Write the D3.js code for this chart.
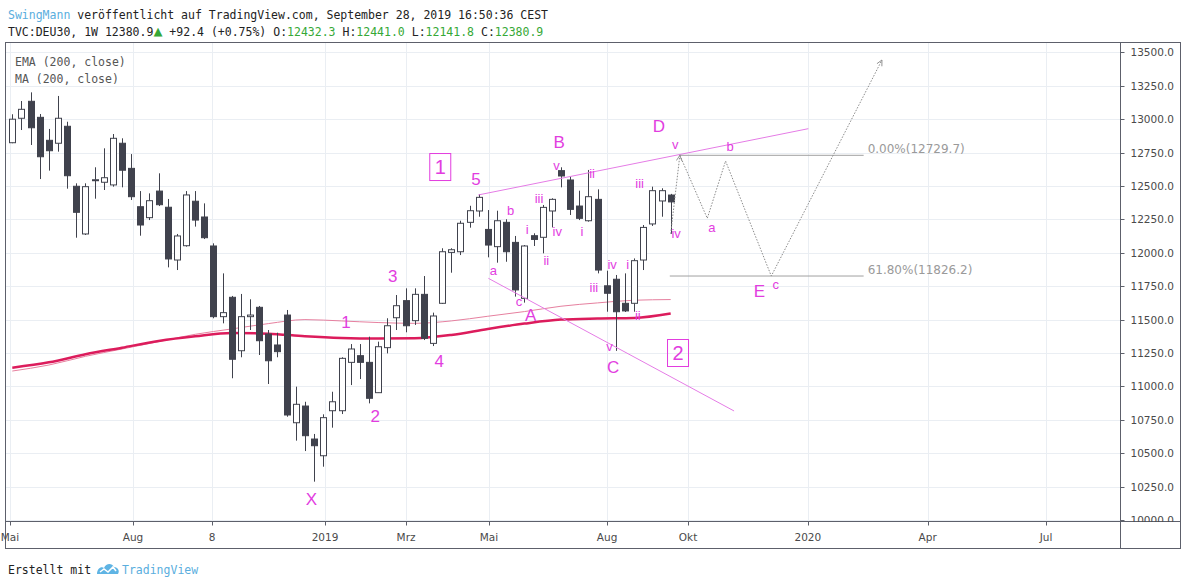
<!DOCTYPE html>
<html>
<head>
<meta charset="utf-8">
<script src="https://cdn.jsdelivr.net/npm/d3@7"></script>
<style>
  body { margin: 0; background: #fff; }
  svg { display: block; }
</style>
</head>
<body>
<div id="chart"></div>
<script>
// Weekly DAX candles, week 0 = 7 May 2018, week 72 = 23 Sep 2019
const opens = [12824, 13007, 13134, 13014, 12842, 12820, 12947, 12498, 12141, 12540,
  12528, 12508, 12820, 12632, 12345, 12263, 12462, 12341, 11946, 12053,
  12386, 12268, 12051, 11522, 11667, 11267, 11522, 11592, 11392, 11310,
  11534, 10728, 10853, 10606, 10481, 10818, 10818, 11180, 11230, 11180,
  10953, 11290, 11514, 11642, 11492, 11689, 11322, 11622, 12003, 12008,
  12228, 12313, 12175, 12046, 12228, 12078, 11659, 12128, 12116, 12313,
  12615, 12545, 12350, 12240, 12400, 11753, 11802, 11622, 11622, 11946,
  12216, 12388, 12432.3];
const highs = [13037, 13136, 13201, 13039, 12927, 13174, 12981, 12520, 12520, 12640,
  12782, 12889, 12857, 12739, 12462, 12445, 12595, 12403, 12141, 12462,
  12462, 12370, 12071, 11846, 11677, 11692, 11652, 11602, 11422, 11402,
  11572, 10998, 10885, 10644, 10791, 10960, 11218, 11317, 11317, 11372,
  11335, 11510, 11684, 11734, 11734, 11826, 11552, 12034, 12034, 12240,
  12352, 12440, 12320, 12315, 12251, 12126, 12058, 12146, 12358, 12408,
  12640, 12570, 12465, 12620, 12475, 11866, 11834, 11846, 11958, 12208,
  12495, 12483, 12441.0];
const lows = [12820, 12919, 12807, 12552, 12615, 12757, 12480, 12113, 12133, 12405,
  12470, 12495, 12490, 12395, 12128, 12245, 12350, 11891, 11871, 12046,
  12196, 12103, 11510, 11472, 11061, 11218, 11422, 11235, 11018, 11218,
  10773, 10594, 10516, 10287, 10399, 10691, 10793, 11010, 11055, 10873,
  10953, 11247, 11422, 11405, 11460, 11347, 11302, 11617, 11851, 11983,
  12188, 12270, 11966, 11926, 11933, 11672, 11627, 12051, 11996, 12190,
  12490, 12283, 12245, 12233, 11846, 11559, 11266, 11557, 11559, 11871,
  12201, 12270, 12141.8];
const closes = [13000, 13074, 12936, 12719, 12764, 13007, 12577, 12303, 12495, 12547,
  12562, 12857, 12618, 12420, 12208, 12390, 12360, 11954, 12126, 12433,
  12245, 12113, 11522, 11552, 11203, 11522, 11534, 11342, 11192, 11260,
  10786, 10866, 10631, 10556, 10766, 10885, 11210, 11280, 11180, 10911,
  11297, 11454, 11604, 11454, 11689, 11360, 11527, 12008, 12023, 12221,
  12315, 12415, 12058, 12240, 12008, 11722, 12051, 12100, 12340, 12400,
  12575, 12325, 12258, 12420, 11871, 11697, 11559, 11565, 11941, 12190,
  12465, 12465, 12380.9];

// moving averages, read every 4 weeks
const maWeeks = [0, 4, 8, 12, 16, 20, 24, 28, 32, 36, 40, 44, 48, 52, 56, 60, 64, 68, 72];
const emaValues = [11140, 11180, 11240, 11290, 11340, 11375, 11400, 11395, 11375, 11362,
  11358, 11360, 11385, 11430, 11470, 11500, 11508, 11512, 11545];
const smaValues = [11115, 11160, 11225, 11280, 11335, 11390, 11430, 11470, 11500, 11490,
  11478, 11472, 11490, 11525, 11560, 11600, 11625, 11645, 11650];

const yTickValues = [10000, 10250, 10500, 10750, 11000, 11250, 11500, 11750, 12000,
  12250, 12500, 12750, 13000, 13250, 13500];
const xTickLabels = ["Mai", "Aug", "8", "2019", "Mrz", "Mai", "Aug", "Okt", "2020", "Apr", "Jul"];
const xTickWeeks = [-0.25, 13.2, 21.84, 34.2, 43.06, 52.13, 65.04, 73.9, 87.0, 100.1, 113.05];

// Elliott wave labels: [text, week, price, big]
const waveLabels = [
  ["X", 32.7, 10150, true], ["1", 36.5, 11475, true], ["2", 39.7, 10778, true],
  ["3", 41.6, 11826, true], ["4", 46.7, 11190, true], ["5", 50.7, 12552, true],
  ["a", 52.6, 11864, false], ["b", 54.5, 12320, false], ["c", 55.4, 11639, false],
  ["A", 56.7, 11534, true], ["i", 56.3, 12178, false], ["iii", 57.6, 12403, false],
  ["ii", 58.4, 11946, false], ["iv", 59.6, 12163, false], ["v", 59.5, 12650, false],
  ["B", 59.8, 12822, true], ["ii", 63.4, 12597, false], ["i", 62.3, 12163, false],
  ["iii", 63.6, 11744, false], ["iv", 65.6, 11909, false], ["i", 67.3, 11916, false],
  ["ii", 68.4, 11534, false], ["v", 65.3, 11302, false], ["C", 65.7, 11145, true],
  ["iii", 68.6, 12522, false], ["iv", 72.6, 12141, false], ["D", 70.7, 12949, true],
  ["v", 72.5, 12814, false], ["b", 78.5, 12799, false], ["a", 76.5, 12186, false],
  ["E", 81.7, 11707, true], ["c", 83.5, 11766, false]
];
const boxLabels = [["1", 46.8, 12642], ["2", 72.8, 11250]];

const upperTrend = [[50.96, 12433], [87.05, 12929]];
const lowerTrend = [[52.06, 11809], [78.93, 10816]];
const fibLevels = [
  { label: "0.00%(12729.7)", price: 12729.7, from: 73, to: 93.1 },
  { label: "61.80%(11826.2)", price: 11826.2, from: 71.9, to: 93.1 }
];
const projectionA = [[72, 12142], [73, 12730]];
const projectionB = [[73, 12730], [76, 12258], [78, 12687], [83, 11826], [95.1, 13443]];

// layout
const width = 1188, height = 586;
const plotL = 5.5, plotR = 1120.5, plotT = 42.5, plotB = 521.5;
const frameR = 1180.5, frameB = 548.5;
const monoFont = "'DejaVu Sans Mono', monospace";
const axisFont = "'DejaVu Sans', sans-serif";
const waveColor = "#e23ddf";
const candleColor = "#40424d";

const svg = d3.select("#chart").append("svg")
  .attr("width", width)
  .attr("height", height);

svg.append("rect").attr("width", width).attr("height", height).attr("fill", "#fff");

const x = d3.scaleLinear().domain([0, 72]).range([12.3, 670.7]);
const y = d3.scaleLinear().domain([10000, 13500]).range([520, 52.4]);

svg.append("defs").append("clipPath").attr("id", "plot")
  .append("rect")
  .attr("x", plotL).attr("y", plotT)
  .attr("width", plotR - plotL).attr("height", plotB - plotT);

svg.select("defs").append("marker")
  .attr("id", "arrow")
  .attr("viewBox", "0 0 10 10")
  .attr("refX", 9).attr("refY", 5)
  .attr("markerWidth", 7).attr("markerHeight", 7)
  .attr("orient", "auto")
  .append("path")
  .attr("d", "M1,1 L9,5 L1,9")
  .attr("fill", "none")
  .attr("stroke", "#8a8a8a")
  .attr("stroke-width", 1.2);

// grid
const grid = svg.append("g").attr("clip-path", "url(#plot)");
grid.selectAll("line.h")
  .data(yTickValues)
  .enter().append("line")
  .attr("x1", plotL).attr("x2", plotR)
  .attr("y1", d => Math.round(y(d)) + 0.5)
  .attr("y2", d => Math.round(y(d)) + 0.5)
  .attr("stroke", "#eaeef3");
grid.selectAll("line.v")
  .data(xTickWeeks)
  .enter().append("line")
  .attr("x1", d => Math.round(x(d)) + 0.5)
  .attr("x2", d => Math.round(x(d)) + 0.5)
  .attr("y1", plotT).attr("y2", plotB)
  .attr("stroke", "#eaeef3");

const plot = svg.append("g").attr("clip-path", "url(#plot)");

// moving averages
const maLine = d3.line()
  .x((d, i) => x(maWeeks[i]))
  .y(d => y(d))
  .curve(d3.curveMonotoneX);

plot.append("path")
  .datum(smaValues)
  .attr("d", maLine)
  .attr("fill", "none")
  .attr("stroke", "#e6809f")
  .attr("stroke-width", 1);

plot.append("path")
  .datum(emaValues)
  .attr("d", maLine)
  .attr("fill", "none")
  .attr("stroke", "#dc1c5c")
  .attr("stroke-width", 2.5);

// candles
const candles = opens.map((o, i) => ({ i, o, h: highs[i], l: lows[i], c: closes[i] }));
const candle = plot.selectAll("g.candle")
  .data(candles)
  .enter().append("g");

candle.append("line")
  .attr("x1", d => Math.round(x(d.i)) + 0.5)
  .attr("x2", d => Math.round(x(d.i)) + 0.5)
  .attr("y1", d => y(d.h))
  .attr("y2", d => y(d.l))
  .attr("stroke", candleColor);

candle.append("rect")
  .attr("x", d => Math.round(x(d.i)) - 2.5)
  .attr("y", d => y(Math.max(d.o, d.c)))
  .attr("width", 6)
  .attr("height", d => Math.max(1, Math.abs(y(d.o) - y(d.c))))
  .attr("fill", d => d.c >= d.o ? "#fff" : candleColor)
  .attr("stroke", candleColor);

// trend lines
const trendLine = d3.line().x(d => x(d[0])).y(d => y(d[1]));
[upperTrend, lowerTrend].forEach(t => {
  plot.append("path")
    .datum(t)
    .attr("d", trendLine)
    .attr("stroke", "#e57ce6")
    .attr("stroke-width", 1)
    .attr("fill", "none");
});

// fibonacci levels
fibLevels.forEach(f => {
  plot.append("line")
    .attr("x1", x(f.from)).attr("x2", x(f.to))
    .attr("y1", y(f.price)).attr("y2", y(f.price))
    .attr("stroke", "#a0a0a0")
    .attr("stroke-width", 1);
  plot.append("text")
    .attr("x", x(f.to) + 4)
    .attr("y", y(f.price) - 2)
    .style("font-family", axisFont)
    .style("font-size", "12px")
    .style("fill", "#9a9a9a")
    .text(f.label);
});

// projected path
[projectionA, projectionB].forEach(p => {
  plot.append("path")
    .datum(p)
    .attr("d", trendLine)
    .attr("fill", "none")
    .attr("stroke", "#8a8a8a")
    .attr("stroke-width", 1)
    .attr("stroke-dasharray", "1.5,1.5")
    .attr("marker-end", "url(#arrow)");
});

// wave labels
plot.selectAll("text.wave")
  .data(waveLabels)
  .enter().append("text")
  .attr("x", d => x(d[1]))
  .attr("y", d => y(d[2]))
  .attr("text-anchor", "middle")
  .attr("dominant-baseline", "central")
  .style("font-family", "'Liberation Sans', Arial, sans-serif")
  .style("font-size", d => d[3] ? "17px" : "13px")
  .style("fill", waveColor)
  .text(d => d[0]);

const box = plot.selectAll("g.box")
  .data(boxLabels)
  .enter().append("g");
box.append("rect")
  .attr("x", d => x(d[1]) - 10.5)
  .attr("y", d => y(d[2]) - 13.5)
  .attr("width", 21)
  .attr("height", 27)
  .attr("fill", "none")
  .attr("stroke", waveColor);
box.append("text")
  .attr("x", d => x(d[1]))
  .attr("y", d => y(d[2]))
  .attr("text-anchor", "middle")
  .attr("dominant-baseline", "central")
  .style("font-family", "'Liberation Sans', Arial, sans-serif")
  .style("font-size", "20px")
  .style("fill", waveColor)
  .text(d => d[0]);

// frame
svg.append("rect")
  .attr("x", plotL).attr("y", plotT)
  .attr("width", frameR - plotL).attr("height", frameB - plotT)
  .attr("fill", "none").attr("stroke", "#5d606b");
svg.append("line")
  .attr("x1", plotR).attr("x2", plotR).attr("y1", plotT).attr("y2", frameB)
  .attr("stroke", "#5d606b");
svg.append("line")
  .attr("x1", plotL).attr("x2", frameR).attr("y1", plotB).attr("y2", plotB)
  .attr("stroke", "#5d606b");

// y axis
const yAxis = svg.append("g");
yAxis.selectAll("line")
  .data(yTickValues)
  .enter().append("line")
  .attr("x1", plotR).attr("x2", plotR + 4)
  .attr("y1", d => Math.round(y(d)) + 0.5)
  .attr("y2", d => Math.round(y(d)) + 0.5)
  .attr("stroke", "#5d606b");
yAxis.selectAll("text")
  .data(yTickValues)
  .enter().append("text")
  .attr("x", plotR + 10)
  .attr("y", d => y(d))
  .attr("dominant-baseline", "central")
  .style("font-family", axisFont)
  .style("font-size", "10.5px")
  .style("fill", "#4a4a4a")
  .text(d => d3.format(".1f")(d));

// cover label overflow under bottom axis
svg.append("rect")
  .attr("x", plotR + 1).attr("y", plotB + 0.5)
  .attr("width", frameR - plotR - 1.5).attr("height", frameB - plotB - 1)
  .attr("fill", "#fff");

// x axis
const xAxis = svg.append("g");
xAxis.selectAll("line")
  .data(xTickWeeks.filter(w => x(w) > plotL + 2))
  .enter().append("line")
  .attr("x1", d => Math.round(x(d)) + 0.5)
  .attr("x2", d => Math.round(x(d)) + 0.5)
  .attr("y1", plotB).attr("y2", plotB + 4)
  .attr("stroke", "#5d606b");
xAxis.selectAll("text")
  .data(xTickWeeks)
  .enter().append("text")
  .attr("x", d => x(d))
  .attr("y", 541)
  .attr("text-anchor", "middle")
  .style("font-family", axisFont)
  .style("font-size", "10.5px")
  .style("fill", "#4a4a4a")
  .text((d, i) => xTickLabels[i]);

// legend
svg.append("text").attr("x", 15).attr("y", 66)
  .style("font-family", monoFont).style("font-size", "11.5px").style("fill", "#555")
  .text("EMA (200, close)");
svg.append("text").attr("x", 15).attr("y", 83)
  .style("font-family", monoFont).style("font-size", "11.5px").style("fill", "#555")
  .text("MA (200, close)");

// header
const green = "#36a836";
const h1 = svg.append("text").attr("x", 8).attr("y", 19)
  .style("font-family", monoFont).style("font-size", "11.5px").style("fill", "#222");
h1.append("tspan").style("fill", "#5aaede").text("SwingMann");
h1.append("tspan").text(" veröffentlicht auf TradingView.com, September 28, 2019 16:50:36 CEST");

const h2 = svg.append("text").attr("x", 8).attr("y", 36)
  .style("font-family", monoFont).style("font-size", "11.5px").style("fill", "#222")
  .attr("xml:space", "preserve");
h2.append("tspan").text("TVC:DEU30, 1W 12380.9");
h2.append("tspan").style("fill", green).style("font-size", "15px").text("▲");
h2.append("tspan").text(" +92.4 (+0.75%) O:");
h2.append("tspan").style("fill", green).text("12432.3");
h2.append("tspan").text(" H:");
h2.append("tspan").style("fill", green).text("12441.0");
h2.append("tspan").text(" L:");
h2.append("tspan").style("fill", green).text("12141.8");
h2.append("tspan").text(" C:");
h2.append("tspan").style("fill", green).text("12380.9");

// footer
svg.append("text").attr("x", 8).attr("y", 574)
  .style("font-family", monoFont).style("font-size", "11.5px").style("fill", "#222")
  .text("Erstellt mit");
const logo = svg.append("g").attr("transform", "translate(97,563)");
logo.append("path")
  .attr("d", "M0,11 C0,6 4,3 7,5 C9,0 15,0 17,4 C21,4 23,8 21,11 Z")
  .attr("fill", "#5fb4e4");
logo.append("path")
  .attr("d", "M3,9 L7,6 L11,9 L16,4 L19,8")
  .attr("fill", "none").attr("stroke", "#fff").attr("stroke-width", 1.5);
svg.append("text").attr("x", 122).attr("y", 574)
  .style("font-family", monoFont).style("font-size", "11.5px").style("fill", "#5aaede")
  .text("TradingView");
</script>
</body>
</html>
